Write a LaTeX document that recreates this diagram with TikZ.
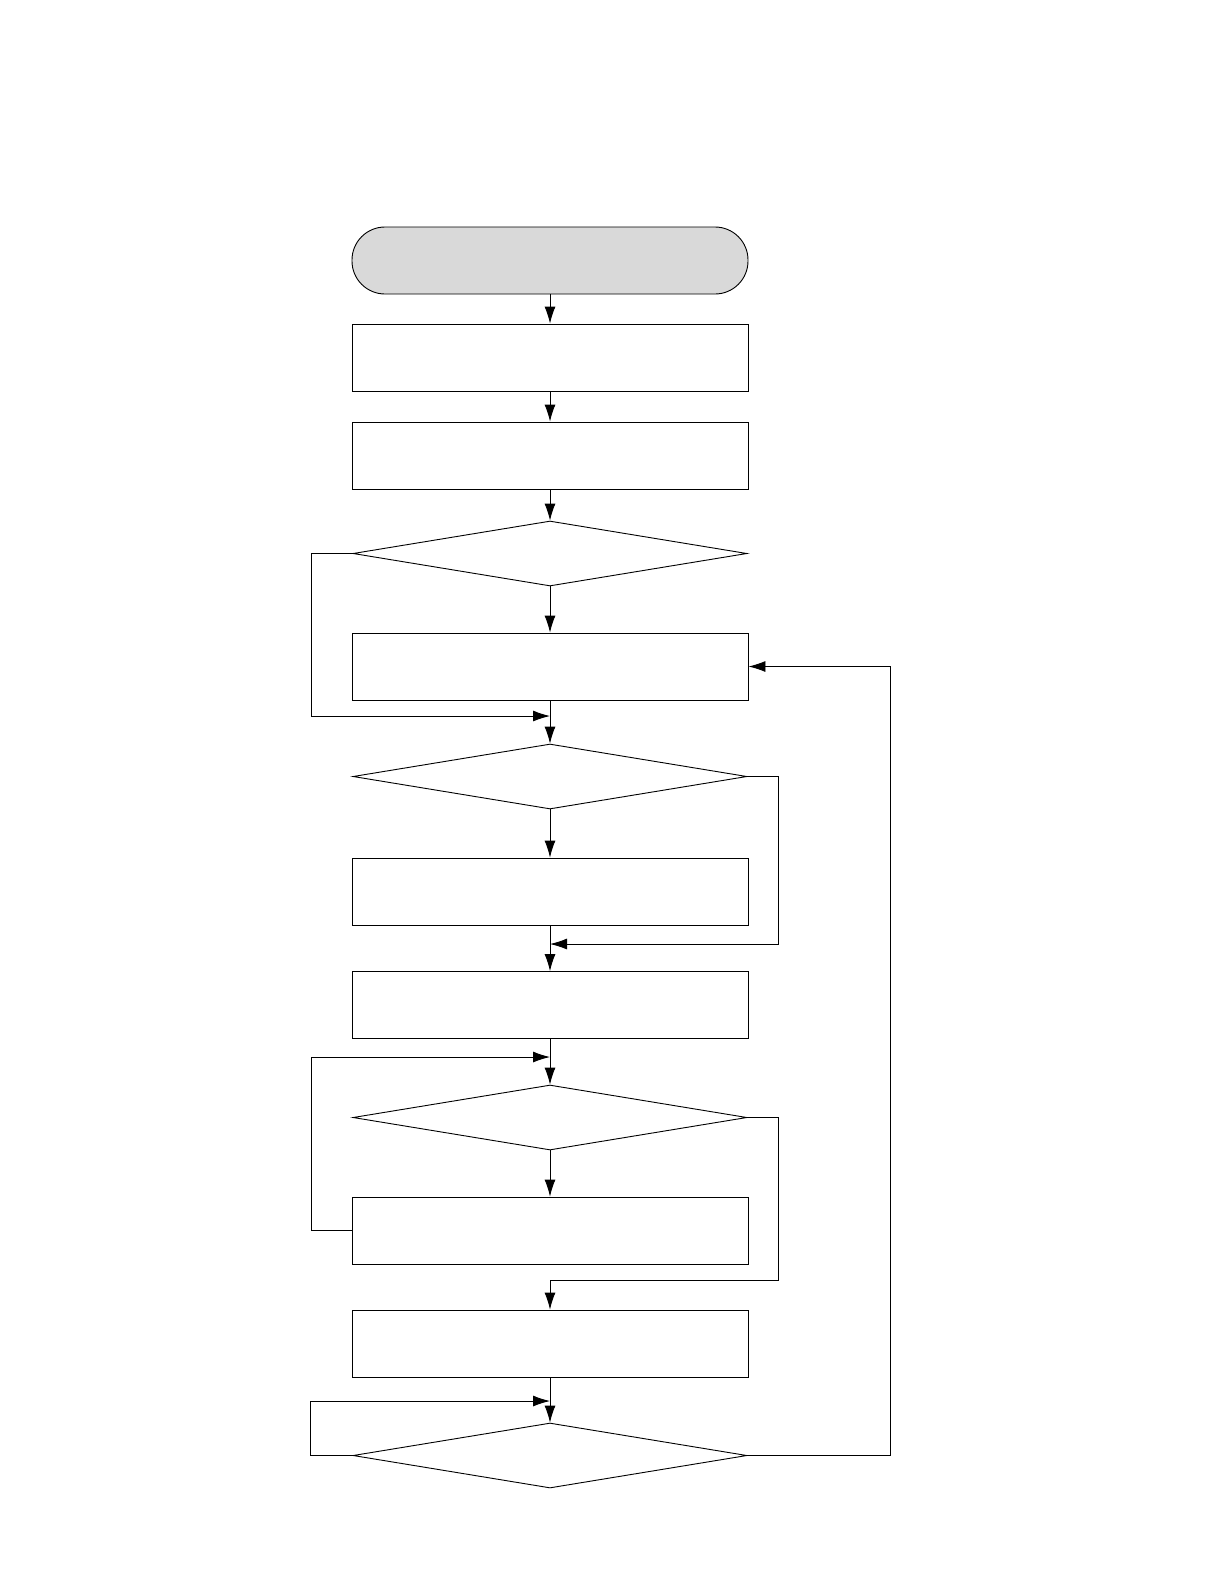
\documentclass[tikz,border=0pt]{standalone}
\usetikzlibrary{shapes.geometric,arrows.meta}
\definecolor{termgray}{RGB}{217,217,217}
\begin{document}
\begin{tikzpicture}[x=1pt,y=-1pt,
  line width=0.9pt,
  box/.style={draw, rectangle, minimum width=396pt, minimum height=67pt, inner sep=0pt},
  term/.style={box, rounded corners=33pt, fill=termgray},
  dec/.style={draw, diamond, minimum width=394pt, minimum height=65pt, inner sep=0pt},
  arr/.style={-{Latex[length=17pt,width=11pt]}}]
\useasboundingbox (0,0) rectangle (1219,1587);
\node[term] (t)  at (550,260.5) {};
\node[box]  (b1) at (550,357.5) {};
\node[box]  (b2) at (550,455.5) {};
\node[dec]  (d1) at (550,553.5) {};
\node[box]  (b3) at (550,666.5) {};
\node[dec]  (d2) at (550,776.5) {};
\node[box]  (b4) at (550,891.5) {};
\node[box]  (b5) at (550,1005) {};
\node[dec]  (d3) at (550,1117.5) {};
\node[box]  (b6) at (550,1230.5) {};
\node[box]  (b7) at (550,1343.5) {};
\node[dec]  (d4) at (550,1455.5) {};
\coordinate (j1) at (550,716);
\coordinate (j2) at (550,944);
\coordinate (j3) at (550,1057);
\coordinate (j4) at (550,1280);
\coordinate (j5) at (550,1401);
% main vertical flow
\draw[arr] (t.south) -- (b1.north);
\draw[arr] (b1.south) -- (b2.north);
\draw[arr] (b2.south) -- (d1.north);
\draw[arr] (d1.south) -- (b3.north);
\draw[arr] (b3.south) -- (d2.north);
\draw[arr] (d2.south) -- (b4.north);
\draw[arr] (b4.south) -- (b5.north);
\draw[arr] (b5.south) -- (d3.north);
\draw[arr] (d3.south) -- (b6.north);
\draw[arr] (b7.south) -- (d4.north);
% loops
\draw[arr] (d1.west) -- ++(-41,0) |- (j1);
\draw[arr] (d2.east) -- ++(31,0) |- (j2);
\draw[arr] (b6.west) -- ++(-40,0) |- (j3);
\draw[arr] (d3.east) -- ++(31,0) |- (j4) -- (b7.north);
\draw[arr] (d4.west) -- ++(-42,0) |- (j5);
\draw[arr] (d4.east) -- (890,1455.5) |- (b3.east);
\end{tikzpicture}
\end{document}
